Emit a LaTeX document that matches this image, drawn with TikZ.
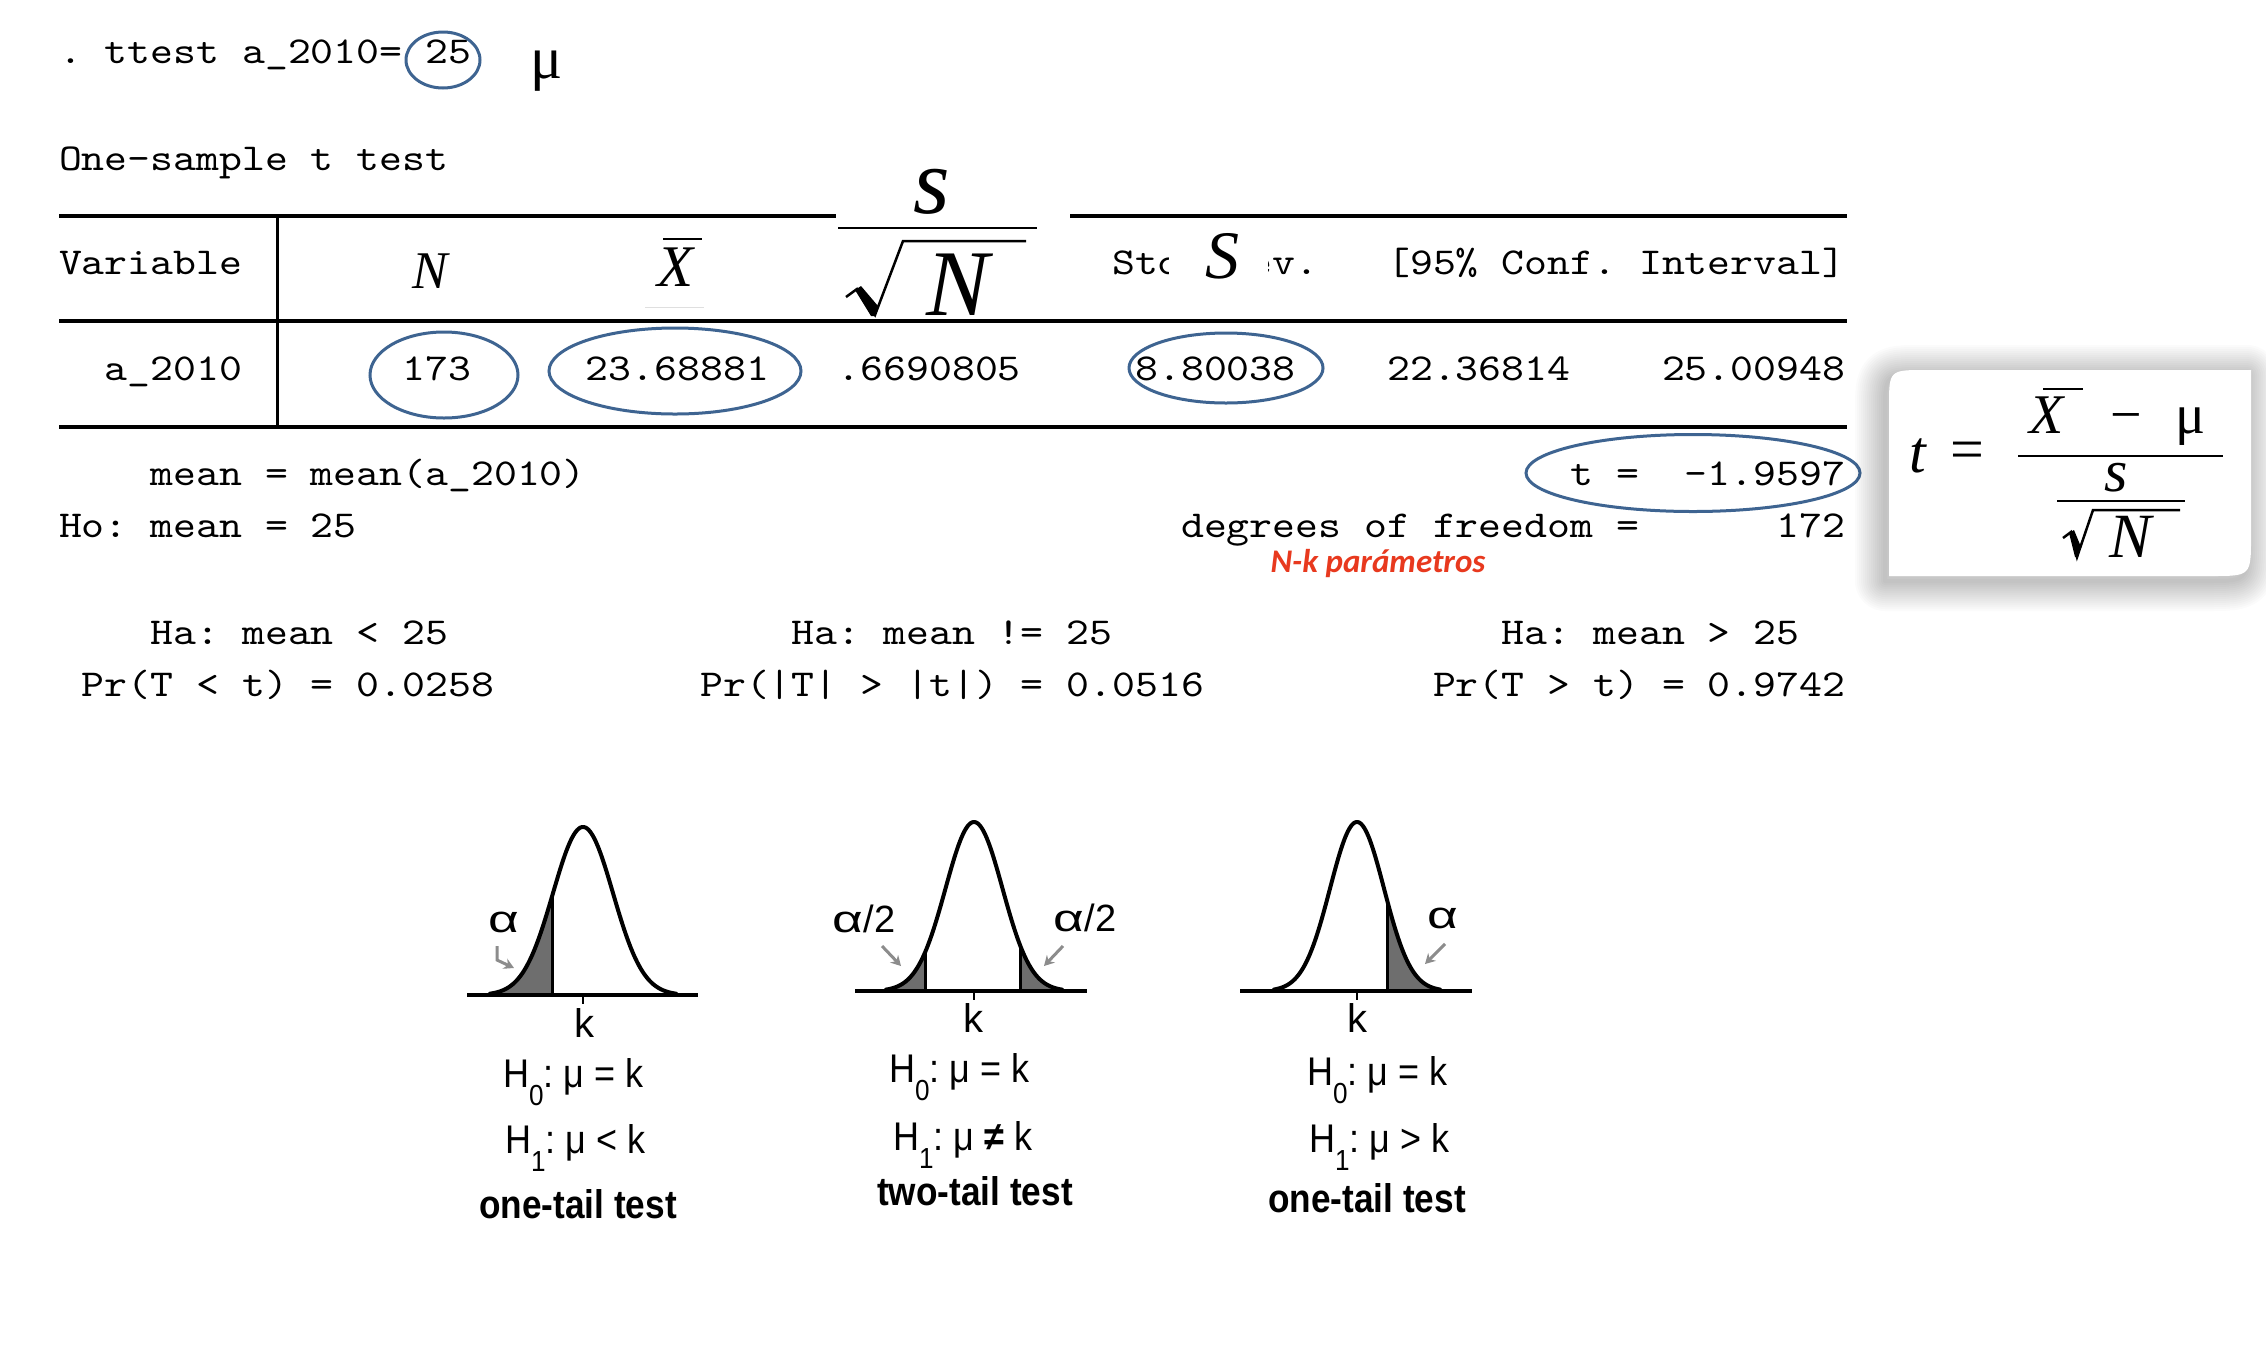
\documentclass[tikz,border=0pt]{standalone}
\usepackage{fontspec}
\usepackage{graphicx}
\usetikzlibrary{shapes.geometric,arrows.meta}
\newfontfamily\mono{lmmono10-regular.otf}[FakeStretch=1.148]
\newfontfamily\arial{Liberation Sans}
\newfontfamily\tnr{Liberation Serif}
\newfontfamily\cali{Carlito}
\definecolor{ellblue}{HTML}{3E6491}
\definecolor{redtxt}{HTML}{E8391E}
\definecolor{shadegray}{HTML}{6E6E6E}
\definecolor{arrowgray}{HTML}{8C8C8C}
\newcommand\hsub[1]{\raisebox{-18pt}{\fontsize{29}{29}\selectfont #1}}
\newcommand\alf{\scalebox{1.4}[1]{α}}
\frenchspacing
\begin{document}
\begin{tikzpicture}[x=1pt,y=-1pt,
  mono/.style={font={\mono\fontsize{38}{40}\selectfont\frenchspacing}, anchor=base west, inner sep=0pt, outer sep=0pt},
  ring/.style={ellipse, draw=ellblue, line width=3pt, inner sep=0pt},
  rulel/.style={line width=3.5pt},
  curve/.style={line width=4pt, line join=round, line cap=round},
  hyp/.style={font={\arial\fontsize{40}{40}\selectfont}, anchor=base west, inner sep=0pt},
  kl/.style={font={\arial\fontsize{40}{40}\selectfont}, anchor=base, inner sep=0pt},
  ttl/.style={font={\arial\bfseries\fontsize{40}{40}\selectfont}, anchor=base, inner sep=0pt},
  alph/.style={font={\arial\fontsize{38}{38}\selectfont}, anchor=center, inner sep=0pt},
  garrow/.style={arrowgray, line width=3pt, -{Stealth[length=10pt,width=11pt]}},
  barl/.style={line width=2.5pt},
  mth/.style={anchor=base, inner sep=0pt, text depth=0pt}]
\useasboundingbox (0,0) rectangle (2266,1350);
\fill[white] (0,0) rectangle (2266,1350);

% ---------- Stata output ----------
\node[mono] (cmd) at (59,63) {. ttest a\_2010=};
\node[mono] (c25) at ({59+16*22.9},63) {25};
\node[mth, font={\tnr\fontsize{60}{60}\selectfont}] (mutop) at (547,78) {μ};
\node[mono] (title) at (59,170) {One-sample t test};

\draw[rulel] (59,216) -- (836,216);
\draw[rulel] (1070,216) -- (1847,216);
\draw[rulel] (59,321) -- (1847,321);
\draw[rulel] (59,427) -- (1847,427);
\draw[line width=3pt] (277,216) -- (277,427);

\node[mono] (hvar) at (59,274) {Variable};
\begin{scope}
  \clip (1100,230) rectangle (1168,300);
  \node[mono] (hsda) at ({59+46*22.9},274) {Std};
\end{scope}
\begin{scope}
  \clip (1268,230) rectangle (1330,300);
  \node[mono] (hsdb) at ({59+52*22.9},274) {ev.};
\end{scope}
\node[mono] (hci) at ({59+58*22.9},274) {[95\% Conf. Interval]};

\node[mth, text height=36pt, font={\tnr\itshape\fontsize{53}{53}\selectfont}] (hN) at (430,288) {N};
\node[mth, text height=40pt, font={\tnr\itshape\fontsize{59}{59}\selectfont}] (hX) at (676,286) {X};
\draw[barl] (663,239) -- (702,239);
\draw[gray!25, line width=1pt] (645,307) -- (704,307);
\node[mth, text height=42pt, font={\tnr\itshape\fontsize{94}{94}\selectfont}] (hs) at (932,213) {s};
\draw[barl] (838,228) -- (1037,228);
\draw[line width=2.5pt, line join=miter] (846,297) -- (857,289) -- (875,315) -- (903,241) -- (1026,241);
\fill (855,290) -- (861,286) -- (878,306) -- (875,316) -- (871,316) -- cycle;
\node[mth, text height=62pt, font={\tnr\itshape\fontsize{94}{94}\selectfont}] (hsN) at (958,315) {N};
\node[mth, text height=45pt, font={\tnr\itshape\fontsize{68}{68}\selectfont}] (hS) at (1222,278) {S};

\node[mono] (rvar) at ({59+2*22.9},380) {a\_2010};
\node[mono] (rN) at ({59+15*22.9},380) {173};
\node[mono] (rmean) at ({59+23*22.9},380) {23.68881};
\node[mono] (rse) at ({59+34*22.9},380) {.6690805};
\node[mono] (rsd) at ({59+47*22.9},380) {8.80038};
\node[mono] (rlo) at ({59+58*22.9},380) {22.36814};
\node[mono] (rhi) at ({59+70*22.9},380) {25.00948};

\node[mono] (lmean) at ({59+4*22.9},485) {mean = mean(a\_2010)};
\node[mono] (lt) at ({59+66*22.9},485) {t =};
\node[mono] (ltv) at ({59+71*22.9},485) {-1.9597};
\node[mono] (lho) at (59,537) {Ho: mean = 25};
\node[mono] (ldf) at ({59+49*22.9},537) {degrees of freedom =};
\node[mono] (ldfv) at ({59+75*22.9},537) {172};
\node[font={\cali\bfseries\itshape\fontsize{33}{33}\selectfont}, text=redtxt, anchor=base, inner sep=0pt] (nk) at (1378,572) {N-k parámetros};

\node[mono] (ha1) at ({59+4*22.9},644) {Ha: mean < 25};
\node[mono] (ha2) at ({59+32*22.9},644) {Ha: mean != 25};
\node[mono] (ha3) at ({59+63*22.9},644) {Ha: mean > 25};
\node[mono] (pr1) at ({59+1*22.9},696) {Pr(T < t) = 0.0258};
\node[mono] (pr2) at ({59+28*22.9},696) {Pr(|T| > |t|) = 0.0516};
\node[mono] (pr3) at ({59+60*22.9},696) {Pr(T > t) = 0.9742};

% ellipses
\node[ring, minimum width=74pt, minimum height=56pt] (e25) at (443,60) {};
\node[ring, minimum width=148pt, minimum height=86pt] (e173) at (444,375) {};
\node[ring, minimum width=252pt, minimum height=86pt] (emean) at (675,371) {};
\node[ring, minimum width=194pt, minimum height=70pt] (esd) at (1226,368) {};
\node[ring, minimum width=334pt, minimum height=77pt] (et) at (1693,473) {};

% ---------- formula box ----------
\foreach \w in {4,8,...,60} {
  \draw[black, opacity=0.015, line width=\w pt, line join=round, shift={(-4,5)}]
    (1889,576) -- (1889,407) .. controls (1889,370) .. (1926,370) -- (2251,370)
    -- (2251,536) .. controls (2251,576) .. (2211,576) -- cycle;
}
\fill[white] (1889,576) -- (1889,407) .. controls (1889,370) .. (1926,370) -- (2251,370)
    -- (2251,536) .. controls (2251,576) .. (2211,576) -- cycle;
\node[mth, font={\tnr\itshape\fontsize{60}{60}\selectfont}] (ft) at (1918,472) {t};
\node[mth, font={\tnr\fontsize{60}{60}\selectfont}] (feq) at (1967,469) {=};
\draw[barl] (2018,456) -- (2223,456);
\node[mth, text height=38pt, font={\tnr\itshape\fontsize{56}{56}\selectfont}] (fX) at (2047,433) {X};
\draw[barl] (2043,389) -- (2083,389);
\node[mth, font={\tnr\fontsize{56}{56}\selectfont}] (fminus) at (2126,433) {−};
\node[mth, font={\tnr\fontsize{56}{56}\selectfont}] (fmu) at (2190,433) {μ};
\node[mth, text height=27pt, font={\tnr\itshape\fontsize{60}{60}\selectfont}] (fs) at (2116,491) {s};
\draw[barl] (2057,501) -- (2185,501);
\draw[line width=2.5pt, line join=miter] (2063,538) -- (2071,532) -- (2077,557) -- (2093,510) -- (2180,510);
\fill (2069,533) -- (2074,530) -- (2081,547) -- (2078,557) -- (2075,557) -- cycle;
\node[mth, text height=42pt, font={\tnr\itshape\fontsize{63}{63}\selectfont}] (fN) at (2130,557) {N};

% ---------- plot 1 ----------
\fill[shadegray] plot[domain=490:552, samples=60] (\x,{995-168*exp(-0.5*((\x-583)/30)^2)}) -- (552,995) -- (490,995) -- cycle;
\draw[curve] plot[domain=490:676, samples=140] (\x,{995-168*exp(-0.5*((\x-583)/30)^2)});
\draw[line width=3pt] (552,995) -- (552,{995-168*exp(-0.5*((552-583)/30)^2)});
\draw[line width=4pt] (467,995) -- (698,995);
\draw[line width=2pt] (583,995) -- (583,1004);
\node[alph] (a1) at (504,922) {\alf};
\draw[garrow] (497,946) -- (497,960) -- (514,968);
\node[kl] (k1) at (584,1037) {k};
\node[hyp] (h01) at (503,1087) {\scalebox{0.9}[1]{H\hsub{0}: μ = k}};
\node[hyp] (h11) at (505,1153) {\scalebox{0.9}[1]{H\hsub{1}: μ < k}};
\node[ttl] (t1) at (578,1218) {\scalebox{0.88}[1]{one-tail test}};

% ---------- plot 2 ----------
\fill[shadegray] plot[domain=886:925, samples=40] (\x,{991-169*exp(-0.5*((\x-974)/28.5)^2)}) -- (925,991) -- (886,991) -- cycle;
\fill[shadegray] plot[domain=1020:1062, samples=40] (\x,{991-169*exp(-0.5*((\x-974)/28.5)^2)}) -- (1062,991) -- (1020,991) -- cycle;
\draw[curve] plot[domain=886:1062, samples=140] (\x,{991-169*exp(-0.5*((\x-974)/28.5)^2)});
\draw[line width=3pt] (925,991) -- (925,{991-169*exp(-0.5*((925-974)/28.5)^2)});
\draw[line width=3pt] (1020,991) -- (1020,{991-169*exp(-0.5*((1020-974)/28.5)^2)});
\draw[line width=4pt] (855,991) -- (1087,991);
\draw[line width=2pt] (974,991) -- (974,1000);
\node[alph] (a2l) at (864,919) {\alf/2};
\node[alph] (a2r) at (1085,918) {\alf/2};
\draw[garrow] (882,946) -- (901,966);
\draw[garrow] (1063,946) -- (1044,966);
\node[kl] (k2) at (973,1032) {k};
\node[hyp] (h02) at (889,1082) {\scalebox{0.9}[1]{H\hsub{0}: μ = k}};
\node[hyp] (h12) at (893,1150) {\scalebox{0.9}[1]{H\hsub{1}: μ \textbf{≠} k}};
\node[ttl] (t2) at (975,1205) {\scalebox{0.88}[1]{two-tail test}};

% ---------- plot 3 ----------
\fill[shadegray] plot[domain=1387:1440, samples=50] (\x,{991-169*exp(-0.5*((\x-1357)/27)^2)}) -- (1440,991) -- (1387,991) -- cycle;
\draw[curve] plot[domain=1274:1440, samples=140] (\x,{991-169*exp(-0.5*((\x-1357)/27)^2)});
\draw[line width=3pt] (1387,991) -- (1387,{991-169*exp(-0.5*((1387-1357)/27)^2)});
\draw[line width=4pt] (1240,991) -- (1472,991);
\draw[line width=2pt] (1357,991) -- (1357,1000);
\node[alph] (a3) at (1443,918) {\alf};
\draw[garrow] (1445,944) -- (1425,964);
\node[kl] (k3) at (1357,1032) {k};
\node[hyp] (h03) at (1307,1085) {\scalebox{0.9}[1]{H\hsub{0}: μ = k}};
\node[hyp] (h13) at (1309,1152) {\scalebox{0.9}[1]{H\hsub{1}: μ > k}};
\node[ttl] (t3) at (1367,1212) {\scalebox{0.88}[1]{one-tail test}};
\end{tikzpicture}
\end{document}
